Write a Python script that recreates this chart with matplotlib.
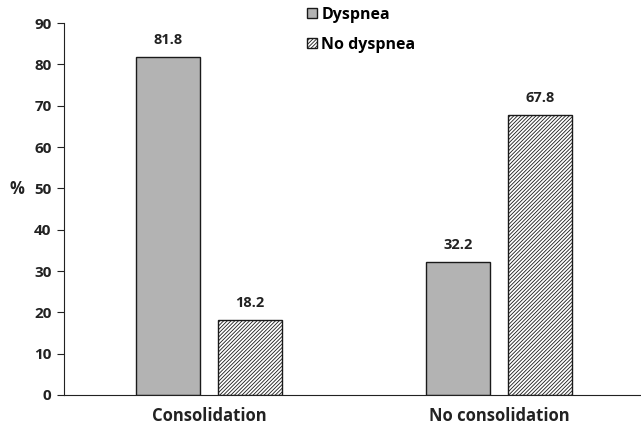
import matplotlib
matplotlib.use("Agg")
import matplotlib.pyplot as plt
import numpy as np

categories = ["Consolidation", "No consolidation"]
dyspnea = [81.8, 32.2]
no_dyspnea = [18.2, 67.8]
series_names = ["Dyspnea", "No dyspnea"]

plt.rcParams['font.family'] = ['Open Sans', 'DejaVu Sans']
plt.rcParams['hatch.color'] = '#b0b0b0'
plt.rcParams['hatch.linewidth'] = 0.6

fig = plt.figure(figsize=(6.41, 4.29), dpi=100)
ax = fig.add_axes([0.0998, 0.0793, 0.9002, 0.8667])

x = np.arange(len(categories))
w = 0.22
off = 0.141
b1 = ax.bar(x - off, dyspnea, w, color='#b3b3b3', edgecolor='#1a1a1a', linewidth=1.0, label=series_names[0])
b2 = ax.bar(x + off, no_dyspnea, w, color='white', edgecolor='#1a1a1a', linewidth=1.0, hatch='/' * 9, label=series_names[1])

for bars, vals in ((b1, dyspnea), (b2, no_dyspnea)):
    for r, v in zip(bars, vals):
        ax.annotate(f"{v:.1f}", (r.get_x() + r.get_width() / 2, v), xytext=(0, 7),
                    textcoords='offset points', ha='center', va='bottom', fontsize=10.5, fontweight='bold', color='#222222')

ax.set_xlim(-0.5, 1.49)
ax.set_ylim(0, 90)
ax.set_yticks(np.arange(0, 91, 10))
ax.set_xticks(x)
ax.set_xticklabels(categories, fontsize=12, fontweight='bold', color='#222222')
ax.tick_params(axis='x', length=0, pad=9)
ax.tick_params(axis='y', labelsize=11, length=5, direction='out', pad=4, colors='#222222')
for lbl in ax.get_yticklabels():
    lbl.set_fontweight('bold')
ax.set_ylabel('%', rotation=0, fontsize=12, fontweight='bold', color='#222222', va='center', ha='center')
ax.yaxis.set_label_coords(-0.082, 0.555)

for s in ['top', 'right']:
    ax.spines[s].set_visible(False)
ax.spines['left'].set_color('#222222')
ax.spines['bottom'].set_color('#222222')

leg = ax.legend(loc='upper left', bbox_to_anchor=(307 / 641, 1 - 7 / 429), bbox_transform=fig.transFigure,
                frameon=False, fontsize=11.5, handlelength=0.6, handleheight=0.6, handletextpad=0.3,
                labelspacing=0.85, borderaxespad=0, borderpad=0)
for t in leg.get_texts():
    t.set_fontweight('bold')

fig.savefig('out.png', dpi=100)
